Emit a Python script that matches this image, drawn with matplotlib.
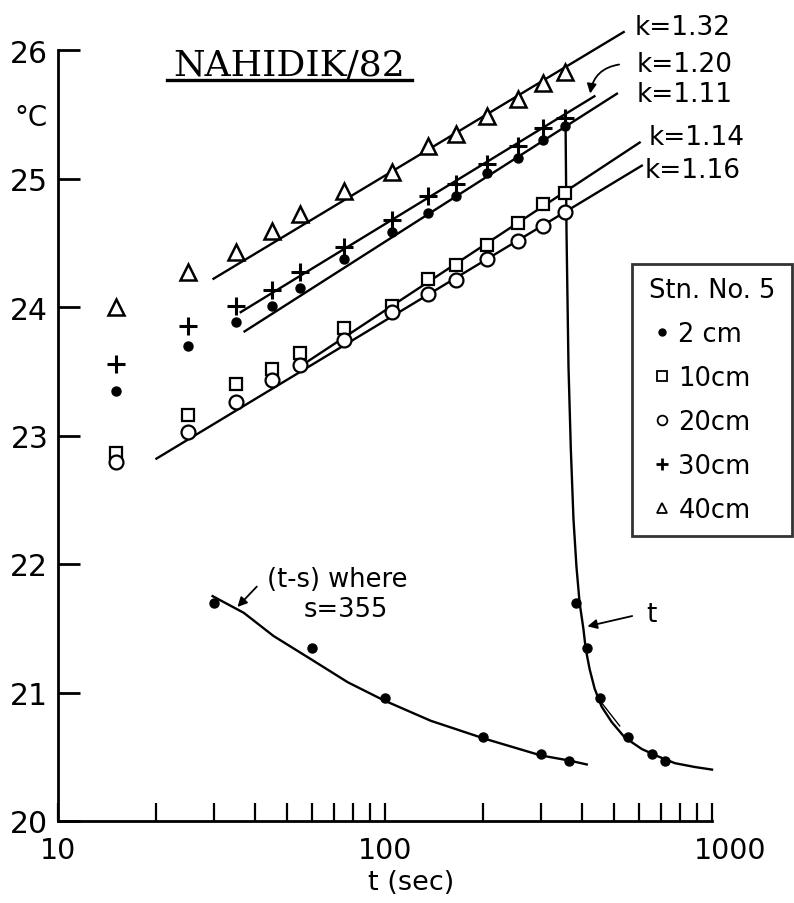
import matplotlib.pyplot as plt
from matplotlib.lines import Line2D
from matplotlib.ticker import FixedLocator, NullFormatter
from matplotlib.transforms import ScaledTranslation

# heating phase, station 5
t_heat = [15, 25, 35, 45, 55, 75, 105, 135, 165, 205, 255, 305, 355]
T_2cm = [23.35, 23.70, 23.88, 24.01, 24.15, 24.37, 24.58, 24.73, 24.86, 25.04, 25.16, 25.30, 25.41]
T_10cm = [22.86, 23.16, 23.40, 23.52, 23.64, 23.84, 24.01, 24.22, 24.33, 24.48, 24.65, 24.80, 24.89]
T_20cm = [22.79, 23.03, 23.26, 23.43, 23.55, 23.74, 23.96, 24.10, 24.21, 24.37, 24.51, 24.63, 24.74]
T_30cm = [23.56, 23.85, 24.01, 24.13, 24.27, 24.47, 24.68, 24.86, 24.96, 25.11, 25.25, 25.39, 25.47]
T_40cm = [24.00, 24.27, 24.43, 24.59, 24.72, 24.90, 25.05, 25.25, 25.35, 25.49, 25.62, 25.74, 25.83]

# fitted straight lines (start, end) in t and T
k_labels = ["k=1.32", "k=1.20", "k=1.11", "k=1.14", "k=1.16"]
fit_t = [(29.9, 537), (36.2, 437), (37.2, 512), (55.2, 601), (20, 610)]
fit_T = [(24.22, 26.14), (23.96, 25.64), (23.81, 25.66), (23.54, 25.28), (22.82, 25.10)]

# recovery after heater off (2 cm), s = 355 s
s = 355
t_rec = [385, 415, 455, 555, 655, 720]
T_rec = [21.70, 21.35, 20.96, 20.65, 20.52, 20.47]

# theoretical recovery curves
ts_curve = [29.7, 37.0, 45.6, 59.3, 76.9, 99, 138, 202, 300, 367, 414]
T_ts_curve = [21.75, 21.62, 21.44, 21.26, 21.08, 20.94, 20.78, 20.64, 20.51, 20.47, 20.44]
t_curve = [356.5, 359, 364, 370, 377, 385, 393.6, 404.6, 410.9, 422.6, 437.6, 459.7,
           493.5, 541, 610, 688, 770, 887, 1000]
T_t_curve = [25.46, 24.58, 23.54, 22.90, 22.35, 21.98, 21.70, 21.49, 21.34, 21.18, 21.03, 20.89,
             20.77, 20.65, 20.56, 20.50, 20.45, 20.42, 20.40]

fig = plt.figure(figsize=(7.94, 9.04), dpi=100)
ax = fig.add_axes([58 / 794, 82 / 904, 654 / 794, 771 / 904])
ax.set_xscale('log')
ax.set_xlim(10, 1000)
ax.set_ylim(20, 26)

lw = 1.7
for (t0, t1), (T0, T1) in zip(fit_t, fit_T):
    ax.plot([t0, t1], [T0, T1], color='k', lw=lw, clip_on=False)

ax.plot(ts_curve, T_ts_curve, color='k', lw=lw)
ax.plot(t_curve, T_t_curve, color='k', lw=lw, clip_on=False)
ax.plot([450, 522], [20.95, 20.74], color='k', lw=1.0)

mk = dict(linestyle='none', color='k', clip_on=False)
ax.plot(t_heat, T_2cm, marker='o', ms=6.5, **mk)
ax.plot(t_heat, T_10cm, marker='s', ms=9, mfc='white', mew=1.6, **mk)
ax.plot(t_heat, T_20cm, marker='o', ms=10, mfc='white', mew=1.6, **mk)
ax.plot(t_heat, T_30cm, marker='+', ms=12.5, mew=2.2, **mk)
ax.plot(t_heat, T_40cm, marker='^', ms=11.5, mfc='white', mew=1.8, **mk)

ax.plot([t - s for t in t_rec], T_rec, marker='o', ms=6.5, **mk)
ax.plot(t_rec, T_rec, marker='o', ms=6.5, **mk)

# k labels
k_pos = [(581, 26.18), (589, 25.89), (589, 25.66), (641, 25.32), (623, 25.07)]
for lab, (x, y) in zip(k_labels, k_pos):
    ax.text(x, y, lab, fontsize=19, ha='left', va='center')

ax.annotate('', xy=(423, 25.64), xytext=(530, 25.89),
            arrowprops=dict(arrowstyle='-|>', color='k', lw=1.3,
                            connectionstyle='arc3,rad=0.4', mutation_scale=14))

ax.text(71.3, 21.88, '(t-s) where', fontsize=18.5, ha='center', va='center')
ax.text(75.9, 21.65, 's=355', fontsize=18.5, ha='center', va='center')
ax.annotate('', xy=(34.9, 21.65), xytext=(41.1, 21.84),
            arrowprops=dict(arrowstyle='-|>', color='k', lw=1.3, mutation_scale=14))

ax.text(628, 21.61, 't', fontsize=19, ha='left', va='center')
ax.annotate('', xy=(408, 21.51), xytext=(581, 21.60),
            arrowprops=dict(arrowstyle='-|>', color='k', lw=1.3, mutation_scale=14))

# station title, underlined
ax.text(51.0, 25.81, 'NAHIDIK/82', fontsize=26, family='DejaVu Serif',
        ha='center', va='baseline')
ax.plot([21.6, 121], [25.765, 25.765], color='k', lw=2.4, clip_on=False)

ax.text(8.26, 25.48, '°C', fontsize=20, ha='center', va='center')

# axes
for side in ['top', 'right']:
    ax.spines[side].set_visible(False)
for side in ['left', 'bottom']:
    ax.spines[side].set_linewidth(2)
ax.set_yticks([20, 21, 22, 23, 24, 25, 26])
ax.xaxis.set_major_locator(FixedLocator([10, 100, 1000]))
ax.xaxis.set_minor_locator(FixedLocator([20, 30, 40, 50, 60, 70, 80, 90,
                                         200, 300, 400, 500, 600, 700, 800, 900]))
ax.xaxis.set_minor_formatter(NullFormatter())
ax.set_xticklabels(['10', '100', '1000'])
ax.tick_params(axis='y', direction='in', length=16, width=2, labelsize=21.5, pad=7)
ax.tick_params(axis='x', which='both', direction='in', length=13, width=1.6,
               labelsize=20.5, pad=11)
last = ax.get_xticklabels()[-1]
last.set_transform(last.get_transform() + ScaledTranslation(0.18, 0, fig.dpi_scale_trans))
ax.set_xlabel('t (sec)', fontsize=19.5)
ax.xaxis.set_label_coords(0.54, -0.062)

handles = [
    Line2D([], [], linestyle='none', marker='o', ms=5, color='k'),
    Line2D([], [], linestyle='none', marker='s', ms=6.5, mfc='white', mec='k', mew=1.3),
    Line2D([], [], linestyle='none', marker='o', ms=7, mfc='white', mec='k', mew=1.3),
    Line2D([], [], linestyle='none', marker='+', ms=8.5, mew=2, color='k'),
    Line2D([], [], linestyle='none', marker='^', ms=7.5, mfc='white', mec='k', mew=1.3),
]
labels = ['2 cm', '10cm', '20cm', '30cm', '40cm']
leg = ax.legend(handles, labels, title='Stn. No. 5', loc='upper left', mode='expand',
                bbox_to_anchor=(632 / 794, 364 / 904, 160 / 794, 275 / 904),
                bbox_transform=fig.transFigure,
                fontsize=18.5, title_fontsize=18.5, frameon=True, fancybox=False,
                borderaxespad=0, handlelength=1.3, handletextpad=0.0,
                labelspacing=0.7, borderpad=0.5)
leg.get_frame().set_edgecolor('k')
leg.get_frame().set_linewidth(2)

fig.savefig('out.png', dpi=100)
